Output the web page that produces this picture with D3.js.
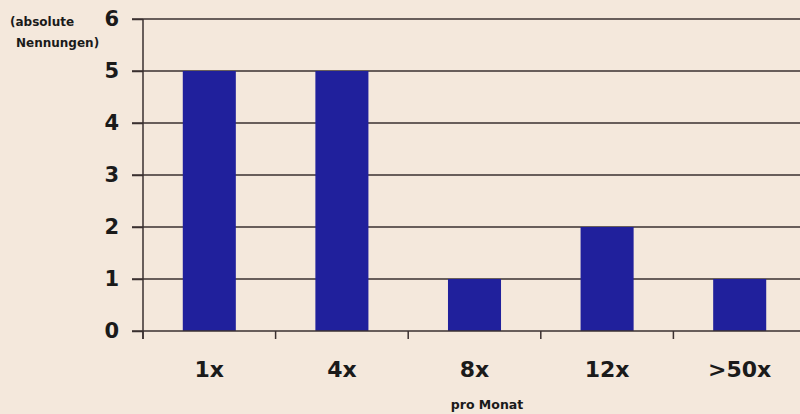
<!DOCTYPE html>
<html>
<head>
<meta charset="utf-8">
<script src="https://cdn.jsdelivr.net/npm/d3@7"></script>
<style>
  body { margin: 0; background: #f4e8dc; }
  svg { display: block; font-family: "DejaVu Sans", sans-serif; }
</style>
</head>
<body>
<svg id="chart"></svg>
<script>
const categories = ["1x", "4x", "8x", "12x", ">50x"];
const values = [5, 5, 1, 2, 1];
const yTicks = [0, 1, 2, 3, 4, 5, 6];

const width = 800;
const height = 414;
const plotLeft = 143;
const plotRight = 806;
const plotTop = 19;
const plotBottom = 331;

const svg = d3.select("#chart")
  .attr("width", width)
  .attr("height", height);

svg.append("rect")
  .attr("width", width)
  .attr("height", height)
  .style("fill", "#f4e8dc");

const x = d3.scaleBand()
  .domain(categories)
  .range([plotLeft, plotRight])
  .paddingInner(0.6)
  .paddingOuter(0.3);

const y = d3.scaleLinear()
  .domain([0, 6])
  .range([plotBottom, plotTop]);

// horizontal grid lines
svg.append("g")
  .selectAll("line")
  .data(yTicks.filter((t) => t > 0))
  .enter()
  .append("line")
  .attr("x1", plotLeft - 11)
  .attr("x2", width)
  .attr("y1", (d) => y(d))
  .attr("y2", (d) => y(d))
  .style("stroke", "#3a3030")
  .style("stroke-width", 1.5);

// bars
svg.append("g")
  .selectAll("rect")
  .data(values)
  .enter()
  .append("rect")
  .attr("x", (d, i) => x(categories[i]))
  .attr("width", x.bandwidth())
  .attr("y", (d) => y(d))
  .attr("height", (d) => y(0) - y(d))
  .style("fill", "#20209c");

// y axis
const yAxis = d3.axisLeft(y)
  .tickValues(yTicks)
  .tickSize(11)
  .tickPadding(13)
  .tickFormat(d3.format("d"));

const gy = svg.append("g")
  .attr("transform", `translate(${plotLeft}, 0)`)
  .call(yAxis);
gy.select(".domain").remove();
gy.append("line")
  .attr("y1", plotTop)
  .attr("y2", plotBottom + 8)
  .style("stroke", "#3a3030")
  .style("stroke-width", 1.5);
gy.selectAll(".tick line").style("stroke", "#3a3030").style("stroke-width", 1.5);
gy.selectAll(".tick text")
  .style("font-family", "DejaVu Sans, sans-serif")
  .style("font-size", "21px")
  .style("font-weight", "bold")
  .style("fill", "#1a1a1a");

// x axis, ticks sit on the band boundaries
const gap = (x.step() - x.bandwidth()) / 2;
const bounds = categories.map((c) => x(c) - gap);
const gx = svg.append("g").attr("transform", `translate(0, ${plotBottom})`);
gx.append("line")
  .attr("x1", plotLeft - 11)
  .attr("x2", width)
  .style("stroke", "#3a3030")
  .style("stroke-width", 1.5);
gx.selectAll(".btick")
  .data(bounds)
  .enter()
  .append("line")
  .attr("x1", (d) => d)
  .attr("x2", (d) => d)
  .attr("y1", 0)
  .attr("y2", 8)
  .style("stroke", "#3a3030")
  .style("stroke-width", 1.5);
gx.selectAll(".clabel")
  .data(categories)
  .enter()
  .append("text")
  .attr("x", (d) => x(d) + x.bandwidth() / 2)
  .attr("y", 46)
  .attr("text-anchor", "middle")
  .style("font-size", "22px")
  .style("font-weight", "bold")
  .style("fill", "#1a1a1a")
  .text((d) => d);

svg.append("text")
  .attr("x", 487)
  .attr("y", 409)
  .attr("text-anchor", "middle")
  .style("font-size", "12.5px")
  .style("font-weight", "bold")
  .style("fill", "#1a1a1a")
  .text("pro Monat");

svg.append("text")
  .attr("x", 10)
  .attr("y", 26)
  .style("font-size", "12px")
  .style("font-weight", "bold")
  .style("fill", "#1a1a1a")
  .text("(absolute");
svg.append("text")
  .attr("x", 16)
  .attr("y", 47)
  .style("font-size", "12px")
  .style("font-weight", "bold")
  .style("fill", "#1a1a1a")
  .text("Nennungen)");
</script>
</body>
</html>
